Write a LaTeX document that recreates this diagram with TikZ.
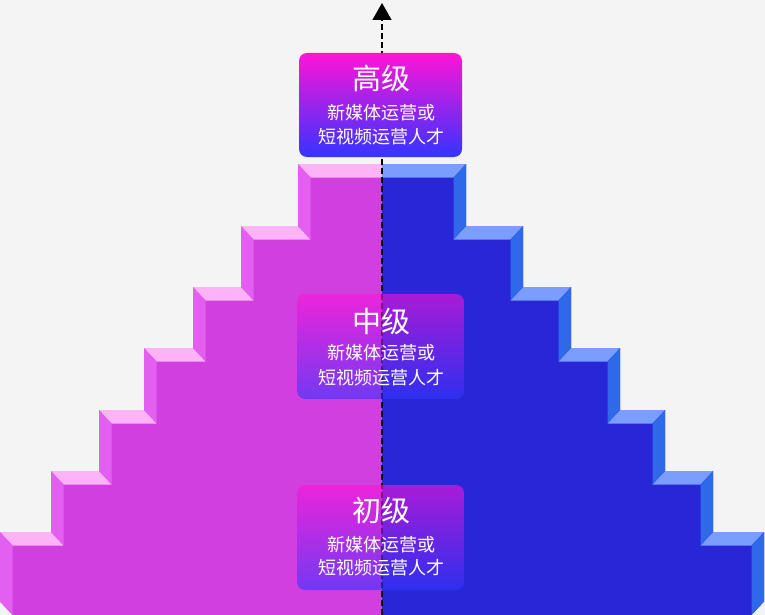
\documentclass[tikz,border=0pt]{standalone}
\usepackage{fontspec}
\newfontfamily\cjk{Noto Sans CJK SC}
\usetikzlibrary{arrows.meta}
\definecolor{bg}{HTML}{F4F4F4}
\definecolor{lfront}{HTML}{D23FE0}
\definecolor{ltop}{HTML}{FDB3F6}
\definecolor{lside}{HTML}{E35FF0}
\definecolor{rfront}{HTML}{2727D8}
\definecolor{rtop}{HTML}{7A9DFE}
\definecolor{rside}{HTML}{2F68E8}
\definecolor{boxtop}{RGB}{255,20,215}
\definecolor{boxbot}{RGB}{52,52,255}
\newcommand\stairhalf[3]{%
  \fill[#1] (0,601.5) -- (0,532) -- (51,532) -- (51,471) -- (99,471) -- (99,410)
    -- (144,410) -- (144,348) -- (193,348) -- (193,287) -- (241,287) -- (241,226)
    -- (298,226) -- (298,164) -- (382,164) -- (382,615) -- (12.5,615) -- cycle;
  \foreach \xa/\ya/\xb/\yb in {0/532/51/601.5, 51/471/99/532, 99/410/144/471,
      144/348/193/410, 193/287/241/348, 241/226/298/287, 298/164/382/226}{
    \fill[#2] (\xa,\ya) -- (\xb,\ya) -- ({min(\xb+12.5,382)},\ya+13.5)
      -- (\xa+12.5,\ya+13.5) -- cycle;
    \fill[#3] (\xa,\ya) -- (\xa+12.5,\ya+13.5) -- (\xa+12.5,\yb+13.5)
      -- (\xa,\yb) -- cycle;
  }%
}
\tikzset{
  lvlbox/.style={rounded corners=8pt, minimum width=167pt, minimum height=105pt,
    inner sep=0pt, top color=boxtop, bottom color=boxbot},
  lvltitle/.style={text=white, inner sep=0pt, font=\cjk\fontsize{29}{31}\selectfont},
  lvltext/.style={text=white, inner sep=0pt, font=\cjk\fontsize{18}{20}\selectfont},
  axisline/.style={line width=1.2pt, dash pattern=on 6pt off 3pt,
    -{Triangle[width=19pt,length=17pt]}}
}
\begin{document}
\begin{tikzpicture}[x=1pt,y=-1pt]
\fill[bg] (0,0) rectangle (765,615);
\useasboundingbox (0,0) rectangle (765,615);
\begin{scope}
  \stairhalf{lfront}{ltop}{lside}
\end{scope}
\begin{scope}[xshift=764pt, xscale=-1]
  \stairhalf{rfront}{rtop}{rside}
\end{scope}
\coordinate (axisbot) at (382,615);
\coordinate (axistop) at (382,3);
\draw[axisline] (axisbot) -- (axistop);
% top level box
\node[lvlbox, minimum width=163pt, minimum height=104pt] (boxhigh) at (380.5,105) {};
\node[lvltitle] (titlehigh) at (381,78) {高级};
\node[lvltext] (texthigha) at (381,112.5) {新媒体运营或};
\node[lvltext] (texthighb) at (381,136.5) {短视频运营人才};
% middle
\node[lvlbox, fill opacity=0.6] (boxmid) at (380.5,346.5) {};
\node[lvltitle] (titlemid) at (381,321.5) {中级};
\node[lvltext] (textmida) at (381,353) {新媒体运营或};
\node[lvltext] (textmidb) at (381,377.5) {短视频运营人才};
% low
\node[lvlbox, fill opacity=0.6] (boxlow) at (380.5,537.5) {};
\node[lvltitle] (titlelow) at (381,510) {初级};
\node[lvltext] (textlowa) at (381,544.5) {新媒体运营或};
\node[lvltext] (textlowb) at (381,568) {短视频运营人才};
\end{tikzpicture}
\end{document}
